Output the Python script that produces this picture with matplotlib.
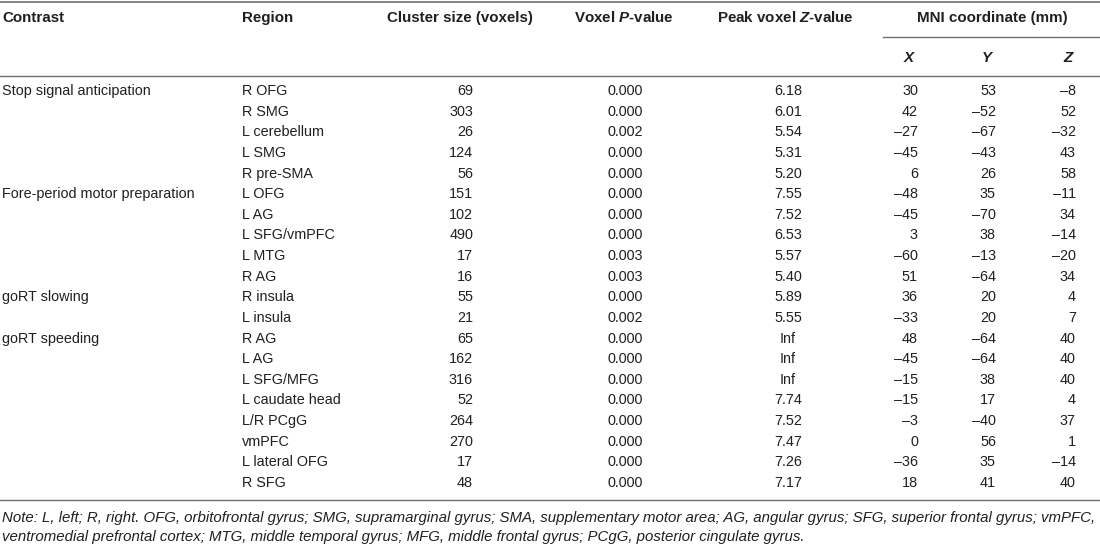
import matplotlib
matplotlib.use("Agg")
import matplotlib.pyplot as plt

plt.rcParams['font.family'] = ['Liberation Sans', 'DejaVu Sans']
plt.rcParams['mathtext.fontset'] = 'custom'
plt.rcParams['mathtext.rm'] = 'Liberation Sans'
plt.rcParams['mathtext.it'] = 'Liberation Sans:italic'
plt.rcParams['mathtext.bf'] = 'Liberation Sans:bold'
plt.rcParams['mathtext.bfit'] = 'Liberation Sans:italic:bold'

# ---- data ----
contrasts = ["Stop signal anticipation", "Fore-period motor preparation",
             "goRT slowing", "goRT speeding"]
contrast_counts = [5, 5, 2, 8]
regions = ["R OFG", "R SMG", "L cerebellum", "L SMG", "R pre-SMA",
           "L OFG", "L AG", "L SFG/vmPFC", "L MTG", "R AG",
           "R insula", "L insula",
           "R AG", "L AG", "L SFG/MFG", "L caudate head", "L/R PCgG",
           "vmPFC", "L lateral OFG", "R SFG"]
cluster_size = [69, 303, 26, 124, 56, 151, 102, 490, 17, 16, 55, 21,
                65, 162, 316, 52, 264, 270, 17, 48]
p_values = ["0.000", "0.000", "0.002", "0.000", "0.000",
            "0.000", "0.000", "0.000", "0.003", "0.003",
            "0.000", "0.002",
            "0.000", "0.000", "0.000", "0.000", "0.000", "0.000", "0.000", "0.000"]
z_values = ["6.18", "6.01", "5.54", "5.31", "5.20",
            "7.55", "7.52", "6.53", "5.57", "5.40",
            "5.89", "5.55",
            "Inf", "Inf", "Inf", "7.74", "7.52", "7.47", "7.26", "7.17"]
mni_x = [30, 42, -27, -45, 6, -48, -45, 3, -60, 51, 36, -33,
         48, -45, -15, -15, -3, 0, -36, 18]
mni_y = [53, -52, -67, -43, 26, 35, -70, 38, -13, -64, 20, 20,
         -64, -64, 38, 17, -40, 56, 35, 41]
mni_z = [-8, 52, -32, 43, 58, -11, 34, -14, -20, 34, 4, 7,
         40, 40, 40, 4, 37, 1, -14, 40]
note_lines = [
    "Note: L, left; R, right. OFG, orbitofrontal gyrus; SMG, supramarginal gyrus; SMA, supplementary motor area; AG, angular gyrus; SFG, superior frontal gyrus; vmPFC,",
    "ventromedial prefrontal cortex; MTG, middle temporal gyrus; MFG, middle frontal gyrus; PCgG, posterior cingulate gyrus.",
]

# ---- figure ----
W, H = 1100, 545
fig = plt.figure(figsize=(W / 100, H / 100), dpi=100)
ax = fig.add_axes([0, 0, 1, 1])
ax.set_xlim(0, W)
ax.set_ylim(H, 0)
ax.axis('off')

txt = '#231f20'
line_c = '#6d6e71'
fs = 10.4
hfs = 10.9

def num(v):
    return str(v).replace('-', '\u2013')

# rules
ax.plot([0, W], [1.5, 1.5], color=line_c, lw=1.2)
ax.plot([883, W], [36.5, 36.5], color=line_c, lw=1.0)
ax.plot([0, W], [75.5, 75.5], color=line_c, lw=1.0)
ax.plot([0, W], [499.5, 499.5], color=line_c, lw=1.0)

# header
hy = 18
hk = dict(fontsize=hfs, fontweight='bold', color=txt, va='center')
ax.text(2, hy, "Contrast", ha='left', **hk)
ax.text(242, hy, "Region", ha='left', **hk)
ax.text(460, hy, "Cluster size (voxels)", ha='center', **hk)
ax.text(624, hy, r"Voxel $\mathbfit{P}$-value", ha='center', **hk)
ax.text(785, hy, r"Peak voxel $\mathbfit{Z}$-value", ha='center', **hk)
ax.text(992, hy, "MNI coordinate (mm)", ha='center', **hk)
sy = 58
for lab, xx in zip(["X", "Y", "Z"], [909, 987, 1068]):
    ax.text(xx, sy, lab, ha='center', fontsize=hfs, fontweight='bold',
            fontstyle='italic', color=txt, va='center')

# body
y0, dy = 91, 20.63
bk = dict(fontsize=fs, color=txt, va='center')
row = 0
for name, cnt in zip(contrasts, contrast_counts):
    ax.text(2, y0 + row * dy, name, ha='left', **bk)
    row += cnt

for i in range(len(regions)):
    y = y0 + i * dy
    ax.text(242, y, regions[i], ha='left', **bk)
    ax.text(473, y, str(cluster_size[i]), ha='right', **bk)
    ax.text(625, y, p_values[i], ha='center', **bk)
    ax.text(788, y, z_values[i], ha='center', **bk)
    ax.text(918, y, num(mni_x[i]), ha='right', **bk)
    ax.text(996, y, num(mni_y[i]), ha='right', **bk)
    ax.text(1076, y, num(mni_z[i]), ha='right', **bk)

# note
for k, line in enumerate(note_lines):
    ax.text(2, 518 + k * 19.5, line, ha='left', fontsize=10.8, fontstyle='italic',
            color=txt, va='center')

fig.savefig("out.png", dpi=100, facecolor='white')
